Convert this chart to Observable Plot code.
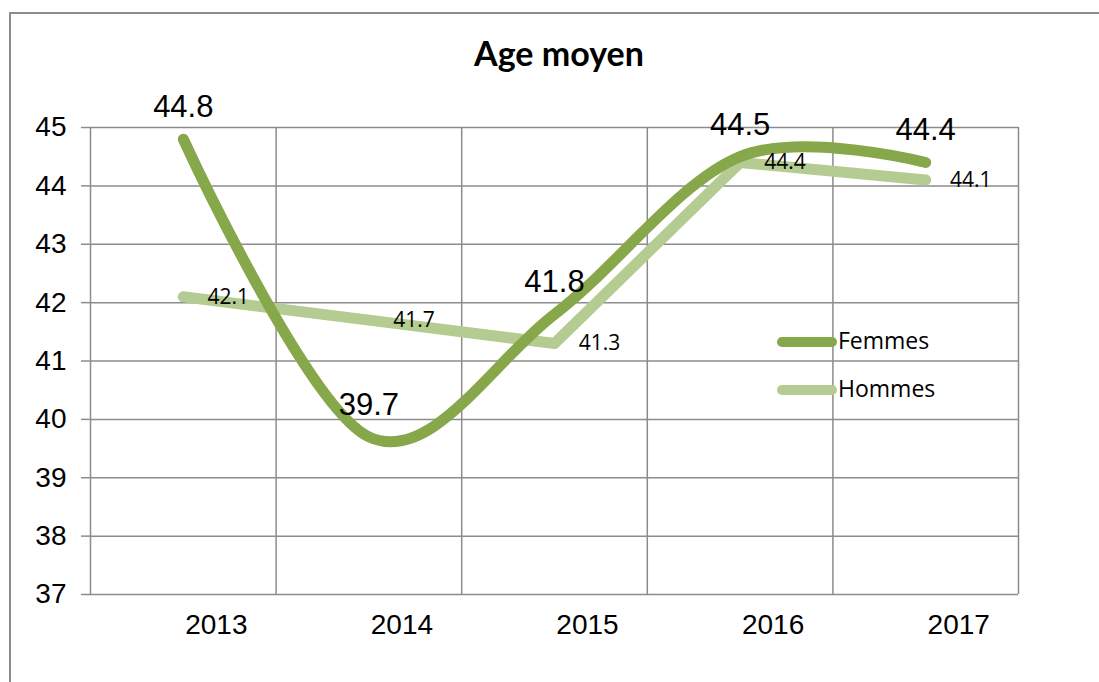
<!DOCTYPE html>
<html><head><meta charset="utf-8">
<script src="https://cdn.jsdelivr.net/npm/d3@7"></script>
<script src="https://cdn.jsdelivr.net/npm/@observablehq/plot@0.6"></script>
<style>
html,body{margin:0;padding:0;background:#fff;overflow:hidden;}
#wrap{position:relative;width:1099px;height:682px;overflow:hidden;background:#fff;}
#border{position:absolute;left:9px;top:12px;width:1200px;height:800px;border-left:2px solid #8c8c8c;border-top:2px solid #8c8c8c;pointer-events:none;}
#title{height:100px;width:1118px;text-align:center;font:bold 34px Lato, "Open Sans", sans-serif;line-height:1;box-sizing:border-box;padding-top:36px;color:#000;}
#chart svg{display:block;}
</style>
</head><body>
<div id="wrap">
  <div id="border"></div>
  <div id="title">Age moyen</div>
  <div id="chart"></div>
</div>
<script>
const years = [2013, 2014, 2015, 2016, 2017];
const femmes = [44.8, 39.7, 41.8, 44.5, 44.4];
const hommes = [42.1, 41.7, 41.3, 44.4, 44.1];
const yTicks = [37, 38, 39, 40, 41, 42, 43, 44, 45];
const seriesNames = ["Femmes", "Hommes"];

const colF = "#87a74b", colH = "#b4cc92", gridCol = "#8c8c8c";
const femRows = years.map((y, i) => ({year: y, value: femmes[i]}));
const homRows = years.map((y, i) => ({year: y, value: hommes[i]}));
const bounds = [...years.map(y => y - 0.5), years[years.length - 1] + 0.5];

const chart = Plot.plot({
  width: 1099, height: 582,
  marginLeft: 90, marginRight: 81, marginTop: 27, marginBottom: 88,
  style: {fontFamily: "'Liberation Sans', Arial, sans-serif", fontSize: "28px", color: "#000", background: "transparent", overflow: "visible"},
  x: {domain: [bounds[0], bounds[bounds.length - 1]], label: null},
  y: {domain: [37, 45], label: null},
  marks: [
    Plot.ruleY(yTicks, {stroke: gridCol, strokeWidth: 1.5}),
    Plot.ruleX(bounds, {stroke: gridCol, strokeWidth: 1.5}),
    Plot.axisY({ticks: yTicks, tickSize: 9, tickPadding: 15, stroke: gridCol, strokeWidth: 1.5, strokeOpacity: 1, fill: "#000", fontSize: 28, label: null, tickFormat: d => String(d)}),
    Plot.axisX({ticks: years, tickSize: 0, tickPadding: 20, dx: 33, fill: "#000", fontSize: 28, label: null, tickFormat: d => String(d)}),
    Plot.line(homRows, {x: "year", y: "value", stroke: colH, strokeWidth: 11, strokeLinecap: "round", strokeLinejoin: "round"}),
    Plot.line(femRows, {x: "year", y: "value", stroke: colF, strokeWidth: 11, strokeLinecap: "round", strokeLinejoin: "round", curve: "cardinal", tension: 0}),
    Plot.text(homRows, {x: "year", y: "value", text: d => d.value.toFixed(1), dx: 45, fontSize: 21, fontFamily: "'Open Sans', sans-serif", fill: "#000"}),
    Plot.text(femRows, {x: "year", y: "value", text: d => d.value.toFixed(1), dy: -32, fontSize: 31, fill: "#000"})
  ]
});
document.getElementById("chart").appendChild(chart);

// legend inside the plot area
const svg = d3.select(chart);
const leg = svg.append("g").attr("font-family", "'Open Sans', sans-serif").attr("font-size", 23).attr("text-anchor", "start");
const legCols = [colF, colH];
seriesNames.forEach((name, i) => {
  const y = 242 + i * 48;
  leg.append("line").attr("x1", 782).attr("x2", 832).attr("y1", y).attr("y2", y)
    .attr("stroke", legCols[i]).attr("stroke-width", 10).attr("stroke-linecap", "round");
  leg.append("text").attr("x", 838).attr("y", y + 7).attr("fill", "#000").attr("text-anchor", "start").text(name);
});
</script>
</body></html>
